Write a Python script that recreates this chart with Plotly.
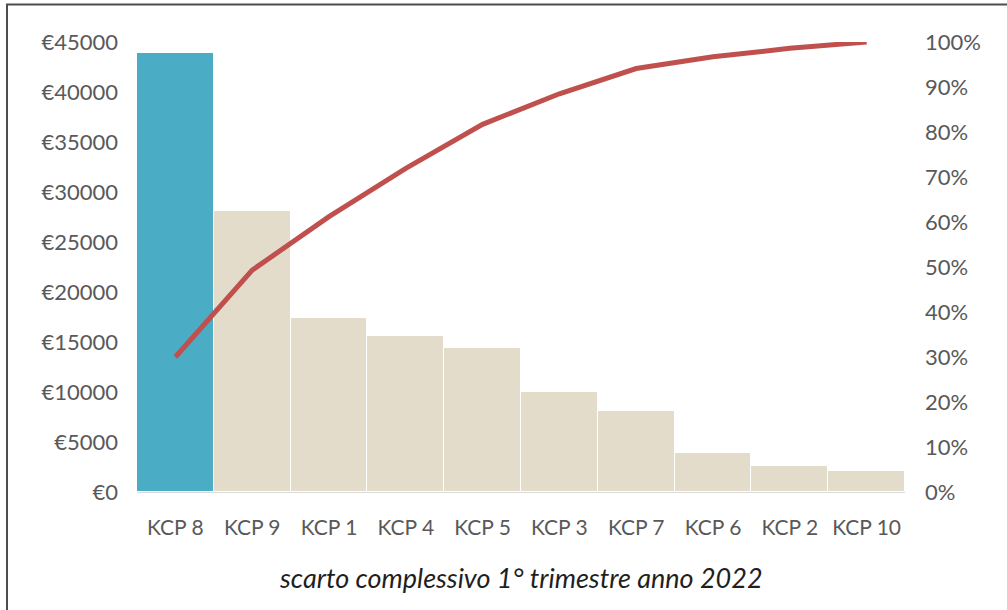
import plotly.graph_objects as go

# Pareto of scrap cost per KCP, first quarter 2022
categories = ["KCP 8", "KCP 9", "KCP 1", "KCP 4", "KCP 5",
              "KCP 3", "KCP 7", "KCP 6", "KCP 2", "KCP 10"]
scrap_eur = [43900, 28100, 17400, 15600, 14400, 10000, 8100, 3900, 2600, 2100]
cumulative_pct = [30.0, 49.3, 61.2, 71.9, 81.7, 88.5, 94.1, 96.7, 98.6, 100.0]

eur_ticks = [0, 5000, 10000, 15000, 20000, 25000, 30000, 35000, 40000, 45000]
eur_labels = ["€" + str(v) for v in eur_ticks]
pct_ticks = [0, 10, 20, 30, 40, 50, 60, 70, 80, 90, 100]
pct_labels = [str(v) + "%" for v in pct_ticks]

bar_colors = ["#4BACC6"] + ["#E4DCCA"] * (len(categories) - 1)

FONT = "Lato, 'Open Sans', sans-serif"
TICK_COLOR = "#595959"

fig = go.Figure()
fig.add_trace(go.Bar(
    x=categories, y=scrap_eur,
    marker=dict(color=bar_colors, line=dict(color="#FFFFFF", width=1)),
    width=1.0, yaxis="y", hoverinfo="x+y",
))
fig.add_trace(go.Scatter(
    x=categories, y=cumulative_pct, mode="lines",
    line=dict(color="#C0504D", width=5),
    yaxis="y2",
))

W, H = 1007, 610
L, R, T, B = 137, 102, 42, 118
pw, ph = W - L - R, H - T - B


def px_x(p):
    return (p - L) / pw


def px_y(p):
    return (H - B - p) / ph


fig.update_layout(
    width=W, height=H,
    margin=dict(l=L, r=R, t=T, b=B),
    paper_bgcolor="white", plot_bgcolor="white",
    showlegend=False,
    bargap=0,
    font=dict(family=FONT, color=TICK_COLOR, size=21),
    xaxis=dict(
        type="category", showgrid=False, zeroline=False,
        showline=True, linecolor="#D9D9D9", linewidth=1,
        ticks="", ticklabelstandoff=17,
        tickfont=dict(family=FONT, size=21, color=TICK_COLOR),
    ),
    yaxis=dict(
        range=[0, 45000], tickvals=eur_ticks, ticktext=eur_labels,
        showgrid=False, zeroline=False, showline=False, ticks="",
        ticklabelstandoff=18,
        tickfont=dict(family=FONT, size=22, color=TICK_COLOR),
    ),
    yaxis2=dict(
        range=[0, 100], tickvals=pct_ticks, ticktext=pct_labels,
        overlaying="y", side="right",
        showgrid=False, zeroline=False, showline=False, ticks="",
        ticklabelstandoff=19,
        tickfont=dict(family=FONT, size=22, color=TICK_COLOR),
    ),
    annotations=[dict(
        text="<i>scarto complessivo 1° trimestre anno 2022</i>",
        xref="paper", yref="paper", x=0.5, y=px_y(577),
        xanchor="center", yanchor="middle", showarrow=False,
        font=dict(family=FONT, size=27, color="#1F1F1F"),
    )],
    shapes=[
        dict(type="line", xref="paper", yref="paper",
             x0=px_x(7), x1=px_x(7), y0=px_y(4.5), y1=px_y(615),
             line=dict(color="#4D4D4D", width=2)),
        dict(type="line", xref="paper", yref="paper",
             x0=px_x(6), x1=px_x(1012), y0=px_y(4.5), y1=px_y(4.5),
             line=dict(color="#4D4D4D", width=2)),
    ],
)

fig.write_html("out.html")
